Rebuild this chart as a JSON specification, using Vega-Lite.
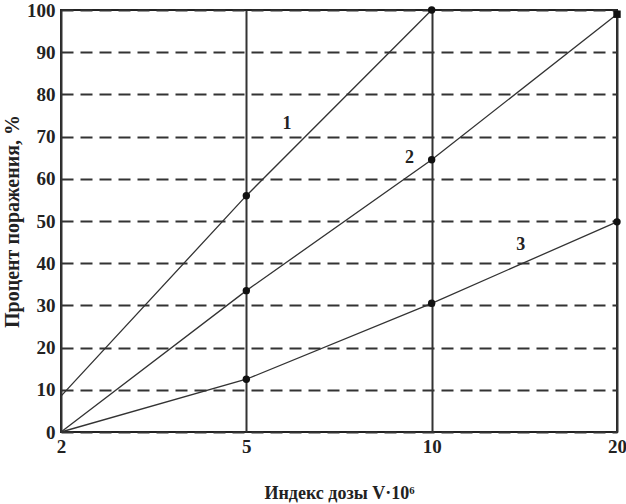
{
  "$schema": "https://vega.github.io/schema/vega-lite/v6.json",
  "autosize": "none",
  "width": 556,
  "height": 422,
  "padding": {"left": 61, "top": 10, "right": 9, "bottom": 72},
  "background": "white",
  "config": {
    "view": {"stroke": "#222", "strokeWidth": 2},
    "font": "Liberation Serif"
  },
  "data": {
    "values": [
      {"dose": 2, "pct": 8.5, "curve": "1", "dot": "none"},
      {"dose": 5, "pct": 56, "curve": "1", "dot": "circle"},
      {"dose": 10, "pct": 100, "curve": "1", "dot": "circle"},
      {"dose": 2, "pct": 0, "curve": "2", "dot": "none"},
      {"dose": 5, "pct": 33.5, "curve": "2", "dot": "circle"},
      {"dose": 10, "pct": 64.5, "curve": "2", "dot": "circle"},
      {"dose": 20, "pct": 99, "curve": "2", "dot": "square"},
      {"dose": 2, "pct": 0, "curve": "3", "dot": "none"},
      {"dose": 5, "pct": 12.5, "curve": "3", "dot": "circle"},
      {"dose": 10, "pct": 30.5, "curve": "3", "dot": "circle"},
      {"dose": 20, "pct": 49.8, "curve": "3", "dot": "circle"}
    ]
  },
  "encoding": {
    "x": {
      "field": "dose", "type": "quantitative",
      "scale": {"domain": [2, 5, 10, 20], "range": [0, 185.33, 370.67, 556], "nice": false, "zero": false},
      "axis": {
        "values": [2, 5, 10, 20],
        "title": "Индекс дозы V·10⁶",
        "titleFont": "Liberation Serif", "titleFontSize": 18, "titleFontWeight": "bold", "titleColor": "#222",
        "titlePadding": 28,
        "labelFont": "Liberation Serif", "labelFontSize": 19, "labelFontWeight": "bold", "labelColor": "#222",
        "labelPadding": 5, "ticks": false, "domain": false,
        "grid": true, "gridColor": "#333", "gridWidth": 2, "gridOpacity": 1,
        "labelFlush": false
      }
    },
    "y": {
      "field": "pct", "type": "quantitative",
      "scale": {"domain": [0, 100], "nice": false},
      "axis": {
        "values": [0, 10, 20, 30, 40, 50, 60, 70, 80, 90, 100],
        "title": "Процент поражения, %",
        "titleFont": "Liberation Serif", "titleFontSize": 20, "titleFontWeight": "bold", "titleColor": "#222",
        "titlePadding": 4,
        "labelFont": "Liberation Serif", "labelFontSize": 19, "labelFontWeight": "bold", "labelColor": "#222",
        "labelPadding": 6, "ticks": false, "domain": false,
        "grid": true, "gridColor": "#333", "gridWidth": 2, "gridDash": [12, 7], "gridOpacity": 1,
        "labelFlush": false
      }
    }
  },
  "layer": [
    {
      "mark": {"type": "line", "color": "#333", "strokeWidth": 1.3, "clip": false},
      "encoding": {"detail": {"field": "curve"}}
    },
    {
      "transform": [{"filter": "datum.dot !== 'none'"}],
      "mark": {"type": "point", "filled": true, "color": "#111", "size": 55, "opacity": 1, "clip": false},
      "encoding": {
        "shape": {"field": "dot", "type": "nominal", "scale": {"domain": ["circle", "square"], "range": ["circle", "square"]}, "legend": null}
      }
    },
    {
      "data": {
        "values": [
          {"dose": 6.1, "pct": 73, "label": "1"},
          {"dose": 9.4, "pct": 65, "label": "2"},
          {"dose": 14.8, "pct": 44.3, "label": "3"}
        ]
      },
      "mark": {"type": "text", "font": "Liberation Serif", "fontSize": 18, "fontWeight": "bold", "color": "#222"},
      "encoding": {"text": {"field": "label"}}
    }
  ]
}
